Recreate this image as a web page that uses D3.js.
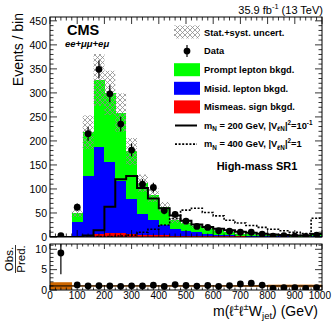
<!DOCTYPE html>
<html>
<head>
<meta charset="utf-8">
<script src="https://cdn.jsdelivr.net/npm/d3@7"></script>
<style>
  body { margin: 0; background: #fff; }
  svg { display: block; font-family: "Liberation Sans", Arial, Helvetica, sans-serif; }
</style>
</head>
<body>
<svg id="chart" width="332" height="322"></svg>
<script>
// Bin edges in GeV (first bin is wide)
const binEdges = [0, 80, 120, 160, 200, 240, 280, 320, 360, 400, 440, 480, 520, 560, 600, 640, 680, 720, 760, 800, 840, 880, 920, 960, 1000];

// Background stack per bin (events)
const mismeasSign  = [0, 0.5, 1, 7, 8, 8, 7, 5, 4, 4, 3, 3, 2, 2, 2, 1.5, 1.5, 1, 1, 1, 0.5, 0.5, 0.5, 0.5];
const misidLepton  = [0.1, 31.5, 127, 180, 149, 109, 72, 43, 31, 21, 14, 10, 8, 5, 3, 2.5, 1.5, 1, 1, 0.5, 1, 0.5, 0.5, 1.5];
const promptLepton = [0.23, 18, 90, 140, 143, 142, 99, 64, 52, 38, 18, 17, 13, 11, 9.5, 7, 3.7, 4, 3, 3.5, 3.5, 2.3, 1.5, 4.7];

// Total stat.+syst. uncertainty on the prediction
const predUncert = [0.3, 8, 35, 54, 46, 40, 28, 18, 14, 10, 6, 5, 4, 3, 2.5, 2, 1.3, 1.2, 1, 1.5, 1.5, 1, 0.8, 2];

// Observed data
const dataCounts = [3, 62, 215, 349, 298, 235, 181, 110, 103, 55, 47, 33, 22, 20, 13, 12, 10, 10, 6, 2, 3, 2, 1, 4];

// Signal hypotheses
const signal200 = [0, 0, 3, 14, 63, 120, 127, 102, 80, 60, 45, 34, 26, 21, 17, 14, 11, 9, 7, 5, 4, 3, 3, 6];
const signal400 = [0, 0, 0, 1, 1, 2, 4, 10, 16, 25, 38, 56, 60, 51, 44, 35, 29, 24, 20, 16, 13, 10, 7, 39];

// Axis ticks
const xTicks = [0, 100, 200, 300, 400, 500, 600, 700, 800, 900, 1000];
const yTicks = [0, 50, 100, 150, 200, 250, 300, 350, 400, 450];
const ratioTicks = [0, 5, 10];

const colors = { red: "#ff0000", blue: "#0000ff", green: "#00ff00", band: "#cc6600" };

const svg = d3.select("#chart");

// layout
const left = 50, right = 322;
const mainTop = 17, mainBottom = 237;
const ratTop = 244, ratBottom = 290;

const x = d3.scaleLinear().domain([0, 1000]).range([left, right]);
const y = d3.scaleLinear().domain([0, 458]).range([mainBottom, mainTop]);
const yr = d3.scaleLinear().domain([0, 11.3]).range([ratBottom, ratTop]);

const defs = svg.append("defs");
const pat = defs.append("pattern")
    .attr("id", "hatch")
    .attr("patternUnits", "userSpaceOnUse")
    .attr("width", 5).attr("height", 5);
pat.append("path").attr("d", "M0,0L5,5M5,0L0,5M-1,4L1,6M4,-1L6,1M-1,1L1,-1M4,6L6,4")
    .attr("stroke", "#8c8c8c").attr("stroke-width", 0.8).attr("fill", "none");

defs.append("clipPath").attr("id", "clipMain").append("rect")
    .attr("x", left).attr("y", mainTop).attr("width", right - left).attr("height", mainBottom - mainTop);
defs.append("clipPath").attr("id", "clipRat").append("rect")
    .attr("x", left).attr("y", ratTop).attr("width", right - left).attr("height", ratBottom - ratTop);

// rows per bin
const rows = binEdges.slice(0, -1).map((x0, i) => ({
    x0: x0,
    x1: binEdges[i + 1],
    red: mismeasSign[i],
    blue: misidLepton[i],
    green: promptLepton[i],
    data: dataCounts[i],
    unc: predUncert[i]
}));
rows.forEach(r => { r.pred = r.red + r.blue + r.green; });

const stacked = d3.stack().keys(["red", "blue", "green"])(rows);

// ---------- main panel ----------
const main = svg.append("g").attr("clip-path", "url(#clipMain)");

stacked.forEach(layer => {
    main.append("g").selectAll("rect")
        .data(layer)
        .enter().append("rect")
        .attr("x", d => x(d.data.x0))
        .attr("width", d => x(d.data.x1) - x(d.data.x0) + 0.3)
        .attr("y", d => y(d[1]))
        .attr("height", d => Math.max(0, y(d[0]) - y(d[1])))
        .attr("fill", colors[layer.key])
        .attr("shape-rendering", "crispEdges");
});

// uncertainty hatch
main.append("g").selectAll("rect")
    .data(rows)
    .enter().append("rect")
    .attr("x", d => x(d.x0))
    .attr("width", d => x(d.x1) - x(d.x0))
    .attr("y", d => y(d.pred + d.unc))
    .attr("height", d => y(Math.max(0, d.pred - d.unc)) - y(d.pred + d.unc))
    .attr("fill", "url(#hatch)");

// signal step lines
function stepPoints(vals) {
    const pts = vals.map((v, i) => [binEdges[i], v]);
    pts.push([binEdges[binEdges.length - 1], vals[vals.length - 1]]);
    return pts;
}
const stepLine = d3.line()
    .x(d => x(d[0]))
    .y(d => y(d[1]))
    .curve(d3.curveStepAfter);

main.append("path")
    .attr("d", stepLine(stepPoints(signal400)))
    .attr("fill", "none").attr("stroke", "#000")
    .attr("stroke-width", 1.6).attr("stroke-dasharray", "2,1.6");
main.append("path")
    .attr("d", stepLine(stepPoints(signal200)))
    .attr("fill", "none").attr("stroke", "#000")
    .attr("stroke-width", 2);

// data points
const dataG = main.append("g");
rows.forEach(r => {
    const cx = x((r.x0 + r.x1) / 2);
    const err = Math.sqrt(r.data);
    dataG.append("line")
        .attr("x1", cx).attr("x2", cx)
        .attr("y1", y(r.data - err)).attr("y2", y(r.data + err))
        .attr("stroke", "#000").attr("stroke-width", 1.2);
    dataG.append("circle")
        .attr("cx", cx).attr("cy", y(r.data)).attr("r", 3.4)
        .attr("fill", "#000");
});

// ---------- ratio panel ----------
const rat = svg.append("g").attr("clip-path", "url(#clipRat)");

rat.append("g").selectAll("rect")
    .data(rows)
    .enter().append("rect")
    .attr("x", d => x(d.x0))
    .attr("width", d => x(d.x1) - x(d.x0) + 0.3)
    .attr("y", d => yr(1 + d.unc / d.pred))
    .attr("height", d => yr(1 - d.unc / d.pred) - yr(1 + d.unc / d.pred))
    .attr("fill", colors.band);

rat.append("line")
    .attr("x1", left).attr("x2", right)
    .attr("y1", yr(1)).attr("y2", yr(1))
    .attr("stroke", "#000").attr("stroke-width", 1);

rows.forEach(r => {
    const cx = x((r.x0 + r.x1) / 2);
    const ratio = r.data / r.pred;
    const err = Math.sqrt(r.data) / r.pred;
    rat.append("line")
        .attr("x1", cx).attr("x2", cx)
        .attr("y1", yr(Math.max(0, ratio - err))).attr("y2", yr(ratio + err))
        .attr("stroke", "#000").attr("stroke-width", 1.2);
    rat.append("circle")
        .attr("cx", cx).attr("cy", yr(ratio)).attr("r", 3.4)
        .attr("fill", "#000");
});

// ---------- frames and ticks ----------
function frame(top, bottom) {
    svg.append("rect")
        .attr("x", left).attr("y", top)
        .attr("width", right - left).attr("height", bottom - top)
        .attr("fill", "none").attr("stroke", "#000").attr("stroke-width", 1);
}
frame(mainTop, mainBottom);
frame(ratTop, ratBottom);

const tickG = svg.append("g").attr("stroke", "#000").attr("stroke-width", 0.8);

function xTickMarks(top, bottom, majorLen, minorLen) {
    d3.range(0, 1001, 20).forEach(v => {
        const len = v % 100 === 0 ? majorLen : minorLen;
        const px = x(v);
        tickG.append("line").attr("x1", px).attr("x2", px).attr("y1", bottom).attr("y2", bottom - len);
        tickG.append("line").attr("x1", px).attr("x2", px).attr("y1", top).attr("y2", top + len);
    });
}
function yTickMarks(scale, step, minorStep, max, majorLen, minorLen) {
    d3.range(0, max + 1e-6, minorStep).forEach(v => {
        const isMajor = Math.abs(v / step - Math.round(v / step)) < 1e-6;
        const len = isMajor ? majorLen : minorLen;
        const py = scale(v);
        tickG.append("line").attr("x1", left).attr("x2", left + len).attr("y1", py).attr("y2", py);
        tickG.append("line").attr("x1", right).attr("x2", right - len).attr("y1", py).attr("y2", py);
    });
}
xTickMarks(mainTop, mainBottom, 7, 3.5);
xTickMarks(ratTop, ratBottom, 5, 2.5);
yTickMarks(y, 50, 10, 458, 7, 3.5);
yTickMarks(yr, 5, 1, 11.3, 7, 3.5);

// tick labels
const labG = svg.append("g").attr("font-size", 10.5).attr("fill", "#000");
yTicks.forEach(v => {
    labG.append("text").attr("x", 47).attr("y", y(v) + 3.8)
        .attr("text-anchor", "end").text(v);
});
ratioTicks.forEach(v => {
    labG.append("text").attr("x", 47).attr("y", yr(v) + 3.8)
        .attr("text-anchor", "end").text(v);
});
xTicks.forEach(v => {
    const last = v === 1000;
    labG.append("text").attr("x", last ? 331 : x(v)).attr("y", 299)
        .attr("font-size", 10)
        .attr("text-anchor", last ? "end" : "middle").text(v);
});

// rich text helper: parts = [[text, "sub"|"sup"|null], ...]
function richText(g, px, py, parts, size, anchor) {
    const t = g.append("text").attr("x", px).attr("y", py)
        .attr("font-size", size).attr("text-anchor", anchor || "start");
    let cur = 0;
    parts.forEach(p => {
        const shift = p[1] === "sup" ? -0.42 * size : p[1] === "sub" ? 0.24 * size : 0;
        t.append("tspan")
            .attr("dy", shift - cur)
            .attr("font-size", p[1] ? size * 0.68 : size)
            .text(p[0]);
        cur = shift;
    });
    return t;
}

// axis titles
svg.append("text")
    .attr("transform", "rotate(-90)")
    .attr("x", -13).attr("y", 23)
    .attr("text-anchor", "end")
    .attr("font-size", 14)
    .text("Events / bin");

const frac = svg.append("g").attr("transform", "translate(15.5,259) rotate(-90)");
frac.append("text").attr("x", 0).attr("y", -2.2).attr("text-anchor", "middle")
    .attr("font-size", 11.5).text("Obs.");
frac.append("text").attr("x", 0).attr("y", 9).attr("text-anchor", "middle")
    .attr("font-size", 11.5).text("Pred.");
frac.append("line").attr("x1", -14).attr("x2", 14).attr("y1", 0).attr("y2", 0)
    .attr("stroke", "#000").attr("stroke-width", 0.8);

richText(svg, 318, 316, [["m(ℓ", null], ["±", "sup"], ["ℓ", null], ["±", "sup"], ["W", null], ["jet", "sub"], [") (GeV)", null]], 14, "end");

// header texts
svg.append("text").attr("x", 67).attr("y", 35)
    .attr("font-size", 14.5).attr("font-weight", "bold").text("CMS");
svg.append("text").attr("x", 65).attr("y", 46.5)
    .attr("font-size", 9.5).attr("font-weight", "bold").attr("font-style", "italic")
    .text("ee+μμ+eμ");
richText(svg, 323, 13.5, [["35.9 fb", null], ["-1", "sup"], [" (13 TeV)", null]], 11, "end");

// ---------- legend ----------
const leg = svg.append("g");
const legX = 174, legW = 26, legTextX = 204, legFs = 9.3;
const rowY = [32.5, 51.1, 69.7, 88.3, 106.9, 125.5, 144.1];

leg.append("rect").attr("x", legX).attr("y", rowY[0] - 7).attr("width", legW).attr("height", 13)
    .attr("fill", "url(#hatch)");
leg.append("line").attr("x1", legX + legW / 2).attr("x2", legX + legW / 2)
    .attr("y1", rowY[1] - 6).attr("y2", rowY[1] + 6).attr("stroke", "#000").attr("stroke-width", 1.2);
leg.append("circle").attr("cx", legX + legW / 2).attr("cy", rowY[1]).attr("r", 3.4).attr("fill", "#000");
[["green", 2], ["blue", 3], ["red", 4]].forEach(([k, i]) => {
    leg.append("rect").attr("x", legX).attr("y", rowY[i] - 6.5).attr("width", legW).attr("height", 13)
        .attr("fill", colors[k]);
});
leg.append("line").attr("x1", legX + 1).attr("x2", legX + legW - 3)
    .attr("y1", rowY[5]).attr("y2", rowY[5]).attr("stroke", "#000").attr("stroke-width", 2);
leg.append("line").attr("x1", legX + 1).attr("x2", legX + legW - 3)
    .attr("y1", rowY[6]).attr("y2", rowY[6]).attr("stroke", "#000").attr("stroke-width", 1.6)
    .attr("stroke-dasharray", "2,1.6");

const legLabels = ["Stat.+syst. uncert.", "Data", "Prompt lepton bkgd.", "Misid. lepton bkgd.", "Mismeas. sign bkgd."];
legLabels.forEach((t, i) => {
    leg.append("text").attr("x", legTextX).attr("y", rowY[i] + 3.3)
        .attr("font-size", legFs).attr("font-weight", "bold").text(t);
});
richText(leg, legTextX, rowY[5] + 3.3,
    [["m", null], ["N", "sub"], [" = 200 GeV, |V", null], ["ℓN", "sub"], ["|", null], ["2", "sup"], ["=10", null], ["-1", "sup"]],
    legFs, "start").attr("font-weight", "bold");
richText(leg, legTextX, rowY[6] + 3.3,
    [["m", null], ["N", "sub"], [" = 400 GeV, |V", null], ["ℓN", "sub"], ["|", null], ["2", "sup"], ["=1", null]],
    legFs, "start").attr("font-weight", "bold");

svg.append("text").attr("x", 257).attr("y", 170)
    .attr("text-anchor", "middle").attr("font-size", 11).attr("font-weight", "bold")
    .text("High-mass SR1");
</script>
</body>
</html>
